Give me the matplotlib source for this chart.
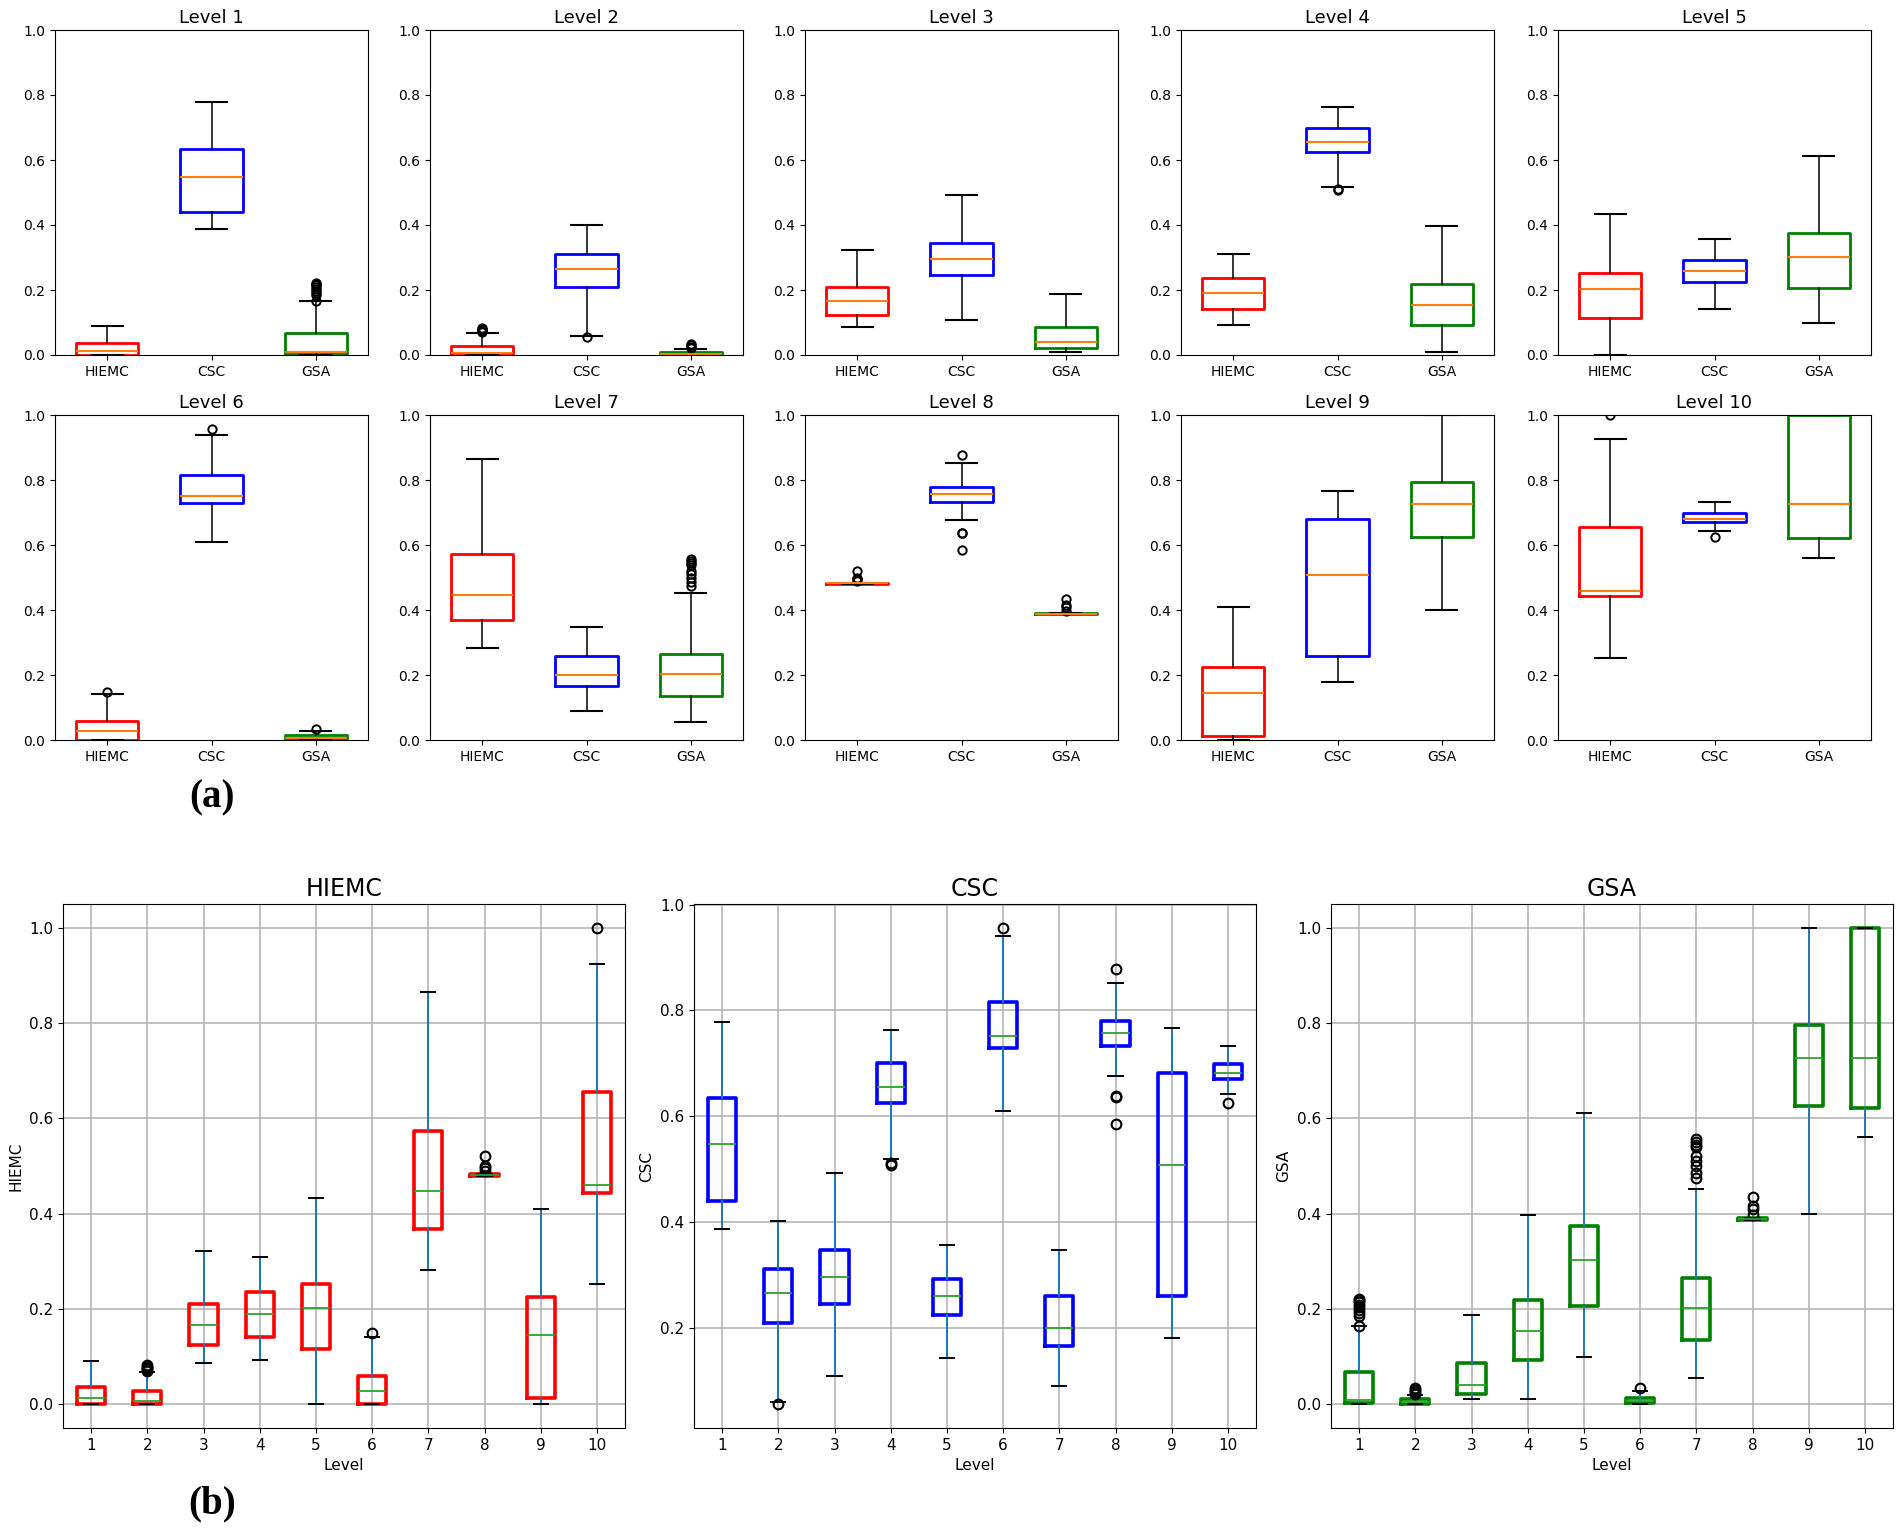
import matplotlib
matplotlib.use("Agg")
import matplotlib.pyplot as plt

# box statistics, one entry per level 1..10
levels = list(range(1, 11))
methods = ["HIEMC", "CSC", "GSA"]
box_colors = ["red", "blue", "green"]

hiemc_lo = [0.0, 0.0, 0.086, 0.093, 0.0, 0.0, 0.282, 0.480, 0.0, 0.252]
hiemc_q1 = [0.0, 0.0, 0.124, 0.142, 0.115, 0.0, 0.368, 0.480, 0.012, 0.444]
hiemc_med = [0.012, 0.007, 0.167, 0.190, 0.202, 0.027, 0.447, 0.482, 0.145, 0.460]
hiemc_q3 = [0.037, 0.027, 0.210, 0.236, 0.253, 0.060, 0.573, 0.484, 0.225, 0.655]
hiemc_hi = [0.090, 0.068, 0.322, 0.310, 0.433, 0.142, 0.865, 0.484, 0.410, 0.925]
hiemc_fl = [[], [0.070, 0.073, 0.076, 0.079, 0.082], [], [], [], [0.149], [],
            [0.490, 0.495, 0.500, 0.521], [], [1.0]]

csc_lo = [0.387, 0.060, 0.108, 0.518, 0.143, 0.610, 0.090, 0.676, 0.180, 0.642]
csc_q1 = [0.440, 0.208, 0.245, 0.625, 0.224, 0.728, 0.165, 0.733, 0.260, 0.670]
csc_med = [0.548, 0.265, 0.296, 0.655, 0.259, 0.751, 0.200, 0.757, 0.507, 0.681]
csc_q3 = [0.635, 0.310, 0.346, 0.700, 0.292, 0.816, 0.259, 0.780, 0.681, 0.699]
csc_hi = [0.778, 0.401, 0.492, 0.762, 0.356, 0.940, 0.347, 0.851, 0.767, 0.733]
csc_fl = [[], [0.055], [], [0.511, 0.508], [], [0.956], [],
          [0.585, 0.636, 0.638, 0.878], [], [0.624]]

gsa_lo = [0.0, 0.0, 0.010, 0.010, 0.100, 0.0, 0.056, 0.387, 0.400, 0.561]
gsa_q1 = [0.002, 0.0, 0.021, 0.093, 0.207, 0.002, 0.135, 0.387, 0.626, 0.621]
gsa_med = [0.009, 0.004, 0.040, 0.153, 0.302, 0.007, 0.202, 0.389, 0.727, 0.727]
gsa_q3 = [0.068, 0.010, 0.086, 0.219, 0.374, 0.014, 0.264, 0.391, 0.795, 1.0]
gsa_hi = [0.165, 0.020, 0.187, 0.397, 0.611, 0.027, 0.452, 0.391, 1.0, 1.0]
gsa_fl = [[0.165, 0.185, 0.192, 0.198, 0.204, 0.209, 0.214, 0.218, 0.221],
          [0.022, 0.026, 0.030, 0.034], [], [], [], [0.033],
          [0.475, 0.485, 0.500, 0.510, 0.520, 0.540, 0.545, 0.550, 0.556],
          [0.397, 0.410, 0.415, 0.435], [], []]


def make_stats(lo, q1, med, q3, hi, fl):
    return [dict(whislo=a, q1=b, med=c, q3=d, whishi=e, fliers=f)
            for a, b, c, d, e, f in zip(lo, q1, med, q3, hi, fl)]


stats = [make_stats(hiemc_lo, hiemc_q1, hiemc_med, hiemc_q3, hiemc_hi, hiemc_fl),
         make_stats(csc_lo, csc_q1, csc_med, csc_q3, csc_hi, csc_fl),
         make_stats(gsa_lo, gsa_q1, gsa_med, gsa_q3, gsa_hi, gsa_fl)]

W, H = 1902, 1531
fig = plt.figure(figsize=(W / 100, H / 100), dpi=100)


def px_axes(x0, y0, x1, y1):
    return fig.add_axes([x0 / W, 1 - y1 / H, (x1 - x0) / W, (y1 - y0) / H])


flier_top = dict(marker="o", markerfacecolor="none", markeredgecolor="black",
                 markersize=6, markeredgewidth=1.4)

# ---- (a): one panel per level
top_lefts = [55, 430, 805, 1181, 1558]
top_rows = [(30, 355), (415, 740)]
for i, lev in enumerate(levels):
    r, c = divmod(i, 5)
    x0 = top_lefts[c]
    y0, y1 = top_rows[r]
    ax = px_axes(x0, y0, x0 + 313, y1)
    st = [stats[m][i] for m in range(3)]
    bp = ax.bxp(st, positions=[1, 2, 3], widths=0.6,
                boxprops=dict(linewidth=2.0),
                whiskerprops=dict(color="black", linewidth=1.1),
                capprops=dict(color="black", linewidth=1.5),
                medianprops=dict(color="#ff7f0e", linewidth=1.5),
                flierprops=flier_top)
    for b, col in zip(bp["boxes"], box_colors):
        b.set_color(col)
    ax.set_xlim(0.5, 3.5)
    ax.set_ylim(0, 1.0)
    ax.set_yticks([0.0, 0.2, 0.4, 0.6, 0.8, 1.0])
    ax.set_xticks([1, 2, 3])
    ax.set_xticklabels(methods)
    ax.tick_params(labelsize=10)
    ax.set_title("Level %d" % lev, fontsize=13, pad=5)

fig.text(212 / W, 1 - 798 / H, "(a)", family="Liberation Serif",
         fontweight="bold", fontsize=28, ha="center", va="center")

# ---- (b): one panel per method
bot_lefts = [63, 694, 1331]
flier_bot = dict(marker="o", markerfacecolor="none", markeredgecolor="black",
                 markersize=7, markeredgewidth=1.5)
for m, name in enumerate(methods):
    x0 = bot_lefts[m]
    ax = px_axes(x0, 904, x0 + 562, 1428)
    bp = ax.bxp(stats[m], positions=levels, widths=0.5,
                boxprops=dict(color=box_colors[m], linewidth=2.6),
                whiskerprops=dict(color="#1f77b4", linewidth=1.4),
                capprops=dict(color="black", linewidth=1.4),
                medianprops=dict(color="#2ca02c", linewidth=1.3),
                flierprops=flier_bot)
    ax.set_axisbelow(True)
    ax.grid(True, color="#b0b0b0", linewidth=1.1)
    ax.set_xticks(levels)
    ax.set_xticklabels([str(l) for l in levels])
    ax.tick_params(labelsize=11)
    ax.set_xlabel("Level", fontsize=11)
    ax.set_ylabel(name, fontsize=11)
    ax.set_title(name, fontsize=17)

fig.text(212 / W, 1 - 1504 / H, "(b)", family="Liberation Serif",
         fontweight="bold", fontsize=28, ha="center", va="center")

fig.savefig("out.png", dpi=100)
